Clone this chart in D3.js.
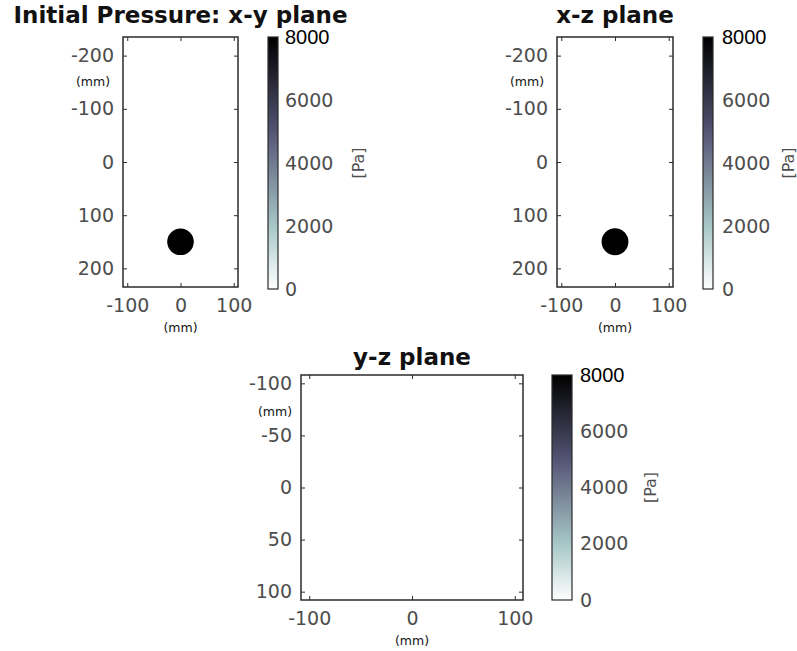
<!DOCTYPE html>
<html>
<head>
<meta charset="utf-8">
<script src="https://cdnjs.cloudflare.com/ajax/libs/d3/7.8.5/d3.min.js"></script>
<style>
body { margin: 0; background: #fff; }
svg { display: block; }
</style>
</head>
<body>
<svg width="797" height="651"></svg>
<script>
// slice titles
const titles = ["Initial Pressure: x-y plane", "x-z plane", "y-z plane"];
// axis extents in mm
const xDomains = [[-108, 108], [-108, 108], [-108, 108]];
const yDomains = [[-235, 235], [-235, 235], [-108, 108]];
const xTicks = [[-100, 0, 100], [-100, 0, 100], [-100, 0, 100]];
const yTicks = [[-200, -100, 0, 100, 200], [-200, -100, 0, 100, 200], [-100, -50, 0, 50, 100]];
// the disc source: only cut by the first two slices
const sourceX = [0, 0, null];
const sourceY = [150, 150, null];
const sourceRadius = 25;
const sourcePressure = 8000;
// colour bar
const cbarTicks = [0, 2000, 4000, 6000, 8000];
const cbarMax = 8000;

// layout in px (axes box, colour bar, label spots)
const layout = [
    { x0: 123, x1: 238, y0: 37, y1: 287, cbx: 268, cbw: 10, cby0: 37, cby1: 289, cbl: 285, pa: 358, titleY: 23, xmmY: 332, ymmX: 93, ymmY: 86 },
    { x0: 557, x1: 673, y0: 37, y1: 287, cbx: 703, cbw: 10, cby0: 37, cby1: 289, cbl: 722, pa: 788, titleY: 23, xmmY: 332, ymmX: 527, ymmY: 86 },
    { x0: 301, x1: 523, y0: 375, y1: 600, cbx: 552, cbw: 20, cby0: 375, cby1: 600, cbl: 580, pa: 650, titleY: 365, xmmY: 645, ymmX: 275, ymmY: 416 }
];

// flipped MATLAB "bone"
const color = d3.scaleLinear()
    .domain([0, 2000, 5000, 8000])
    .range(["#ffffff", "#a7c7c7", "#545474", "#000000"]);

const svg = d3.select("svg");
const defs = svg.append("defs");

const grad = defs.append("linearGradient")
    .attr("id", "cbar")
    .attr("x1", 0).attr("y1", 1).attr("x2", 0).attr("y2", 0);
grad.selectAll("stop")
    .data(d3.range(0, 1.0001, 0.05))
    .enter().append("stop")
    .attr("offset", d => d)
    .attr("stop-color", d => color(d * cbarMax));

const tickFont = "'DejaVu Sans', sans-serif";
const tickColor = "#4d4d4d";
const lineColor = "#2b2b2b";

titles.forEach((title, i) => {
    const L = layout[i];
    const x = d3.scaleLinear().domain(xDomains[i]).range([L.x0, L.x1]);
    const y = d3.scaleLinear().domain(yDomains[i]).range([L.y0, L.y1]);
    const g = svg.append("g");

    // pressure field: zero everywhere except the source disc
    g.append("rect")
        .attr("x", L.x0).attr("y", L.y0)
        .attr("width", L.x1 - L.x0).attr("height", L.y1 - L.y0)
        .attr("fill", color(0));

    if (sourceX[i] !== null) {
        g.append("circle")
            .attr("cx", x(sourceX[i]))
            .attr("cy", y(sourceY[i]))
            .attr("r", x(sourceRadius) - x(0))
            .attr("fill", color(sourcePressure));
    }

    // axes, ticks pointing inward on all four sides
    const styleAxis = sel => {
        sel.select(".domain").remove();
        sel.selectAll(".tick line").attr("stroke", lineColor).attr("stroke-width", 1);
        sel.selectAll(".tick text")
            .attr("fill", tickColor)
            .style("font-family", tickFont)
            .style("font-size", "19px");
    };

    g.append("g")
        .attr("transform", `translate(${L.x0},0)`)
        .call(d3.axisLeft(y).tickValues(yTicks[i]).tickSize(-4).tickPadding(9).tickFormat(d3.format("d")))
        .call(styleAxis);
    g.append("g")
        .attr("transform", `translate(${L.x1},0)`)
        .call(d3.axisRight(y).tickValues(yTicks[i]).tickSize(-4).tickFormat(""))
        .call(styleAxis);
    g.append("g")
        .attr("transform", `translate(0,${L.y1})`)
        .call(d3.axisBottom(x).tickValues(xTicks[i]).tickSize(-4).tickPadding(12).tickFormat(d3.format("d")))
        .call(styleAxis);
    g.append("g")
        .attr("transform", `translate(0,${L.y0})`)
        .call(d3.axisTop(x).tickValues(xTicks[i]).tickSize(-4).tickFormat(""))
        .call(styleAxis);

    g.selectAll(".tick text").text(function () { return this.textContent.replace("−", "-"); });

    g.append("rect")
        .attr("x", L.x0).attr("y", L.y0)
        .attr("width", L.x1 - L.x0).attr("height", L.y1 - L.y0)
        .attr("fill", "none")
        .attr("stroke", lineColor)
        .attr("stroke-width", 1.5);

    // title
    g.append("text")
        .attr("x", (L.x0 + L.x1) / 2)
        .attr("y", L.titleY)
        .attr("text-anchor", "middle")
        .style("font-family", "'DejaVu Sans', sans-serif")
        .style("font-weight", "bold")
        .style("font-size", "23px")
        .attr("fill", "#111")
        .text(title);

    // (mm) units
    g.append("text")
        .attr("x", (L.x0 + L.x1) / 2).attr("y", L.xmmY)
        .attr("text-anchor", "middle")
        .style("font-family", tickFont).style("font-size", "12.5px")
        .attr("fill", "#111")
        .text("(mm)");
    g.append("text")
        .attr("x", L.ymmX).attr("y", L.ymmY)
        .attr("text-anchor", "middle")
        .style("font-family", tickFont).style("font-size", "12.5px")
        .attr("fill", "#111")
        .text("(mm)");

    // colour bar
    const cy = d3.scaleLinear().domain([0, cbarMax]).range([L.cby1, L.cby0]);
    g.append("rect")
        .attr("x", L.cbx).attr("y", L.cby0)
        .attr("width", L.cbw).attr("height", L.cby1 - L.cby0)
        .attr("fill", "url(#cbar)")
        .attr("stroke", lineColor)
        .attr("stroke-width", 1.2);

    g.selectAll(".cbl")
        .data(cbarTicks)
        .enter().append("text")
        .attr("class", "cbl")
        .attr("x", L.cbl)
        .attr("y", d => cy(d))
        .attr("dy", "0.35em")
        .style("font-family", d => d === cbarMax ? "'Liberation Sans', Arial, sans-serif" : tickFont)
        .style("font-size", d => d === cbarMax ? "20px" : "19px")
        .attr("fill", d => d === cbarMax ? "#000" : tickColor)
        .text(d => d);

    g.append("text")
        .attr("transform", `translate(${L.pa},${(L.cby0 + L.cby1) / 2}) rotate(-90)`)
        .attr("text-anchor", "middle")
        .attr("dy", "0.35em")
        .style("font-family", tickFont).style("font-size", "16px")
        .attr("fill", tickColor)
        .text("[Pa]");
});
</script>
</body>
</html>
